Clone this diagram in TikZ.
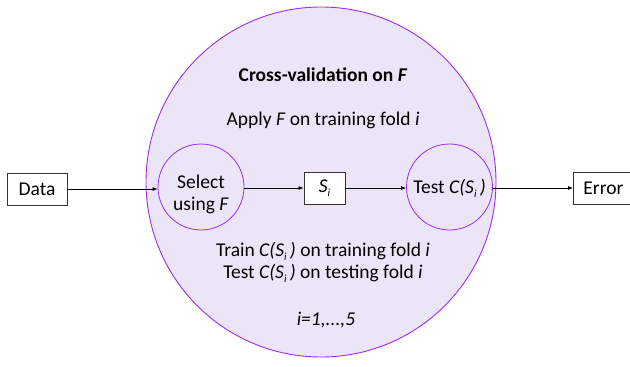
\documentclass[tikz,border=0pt]{standalone}
\usepackage{fontspec}
\setmainfont{Carlito}
\usetikzlibrary{arrows.meta}
\definecolor{lav}{HTML}{ECE5F8}
\definecolor{ring}{HTML}{9B2CF2}
\newcommand{\Si}{\textit{S}\raisebox{-0.45ex}{\fontsize{11}{11}\selectfont\textit{i}}}
\begin{document}
\begin{tikzpicture}[x=1pt,y=-1pt,
  txt/.style={font=\fontsize{19.5}{22}\selectfont},
  boxnode/.style={draw=black!80,line width=0.8pt,fill=white,txt,minimum height=32pt,inner sep=0pt},
  inner/.style={circle,draw=ring,line width=0.8pt,fill=lav,minimum size=86pt,inner sep=0pt},
  conn/.style={line width=0.7pt,-{Latex[length=5pt,width=4pt]}}]
\useasboundingbox (0,0) rectangle (630,367);
% outer cross-validation loop
\node[circle,draw=ring,line width=0.9pt,fill=lav,minimum size=350pt,inner sep=0pt] (cv) at (321,182) {};
\node[txt,font=\fontsize{19.5}{22}\selectfont\bfseries] (title) at (323,75) {Cross-validation on \textit{F}};
\node[txt] (apply) at (323,120) {Apply \textit{F} on training fold \textit{i}};
\node[txt,align=center] (train) at (323,262) {Train \textit{C(}\Si\,\textit{)} on training fold \textit{i}\\Test \textit{C(}\Si\,\textit{)} on testing fold \textit{i}};
\node[txt] (range) at (326,320) {\textit{i=1,...,5}};
% stages
\node[inner] (sel) at (201,187) {};
\node[txt,align=center] (selt) at (201,194) {Select\\using \textit{F}};
\node[inner] (test) at (449.5,187) {};
\node[txt] (testt) at (449.5,188) {Test \textit{C(}\Si\,\textit{)}};
\node[boxnode,minimum width=41pt] (si) at (324.5,188) {\Si};
\node[boxnode,minimum width=60pt] (data) at (37,189) {Data};
\node[boxnode,minimum width=60pt,anchor=west] (err) at (573,188) {Error};
\draw[conn] (data.east) -- (sel.west|-data.east);
\draw[conn] (sel.east|-si.west) -- (si.west);
\draw[conn] (si.east) -- (test.west|-si.east);
\draw[conn] (test.east|-err.west) -- (err.west);
\end{tikzpicture}
\end{document}
